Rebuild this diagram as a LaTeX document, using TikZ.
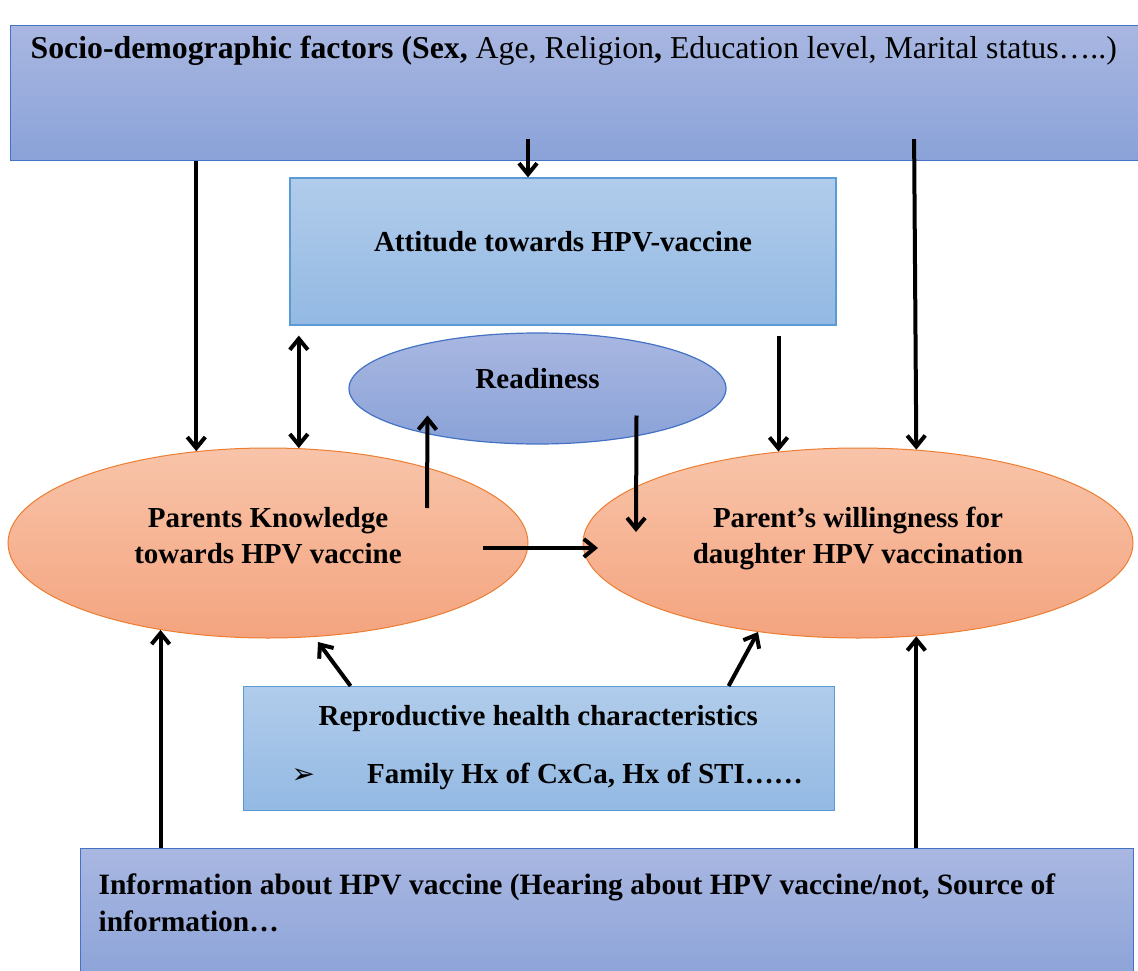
\documentclass[tikz,border=0pt]{standalone}
\usepackage{fontspec}
\setmainfont{Liberation Serif}
\newfontfamily\dejavu{DejaVu Sans}
\usetikzlibrary{shapes.geometric,arrows.meta,calc}
\definecolor{boxtop}{HTML}{A9B7E1}
\definecolor{boxbot}{HTML}{8AA2D8}
\definecolor{boxline}{HTML}{4472C4}
\definecolor{lbtop}{HTML}{B1CCEB}
\definecolor{lbbot}{HTML}{93B9E3}
\definecolor{lbline}{HTML}{5B9BD5}
\definecolor{ortop}{HTML}{F8C4A9}
\definecolor{orbot}{HTML}{F4A47F}
\definecolor{orline}{HTML}{ED7D31}
\begin{document}
\begin{tikzpicture}[x=1pt, y=-1pt,
    >={Straight Barb[length=11pt,width=18pt]},
    bluebox/.style={rectangle, top color=boxtop, bottom color=boxbot, draw=boxline, line width=1.2pt, inner sep=0pt},
    lightbox/.style={rectangle, top color=lbtop, bottom color=lbbot, draw=lbline, line width=1.2pt, inner sep=0pt},
    orangeoval/.style={ellipse, top color=ortop, bottom color=orbot, draw=orline, line width=1pt, inner sep=0pt},
    blueoval/.style={ellipse, top color=boxtop, bottom color=boxbot, draw=boxline, line width=1.2pt, inner sep=0pt},
    arr/.style={->, line width=4pt},
    font=\fontsize{29}{36}\selectfont\bfseries]
    \useasboundingbox (0,0) rectangle (1138,971); % размер картинки
    \def\ovaltext#1{\parbox[c][72pt][t]{360pt}{\centering #1}} % текст в овале чуть выше центра

    % блоки
    \node [bluebox, anchor=north west, font=\fontsize{31.8}{36}\selectfont] (socio) at (10,25)
        {\parbox[c][135pt][t]{1135pt}{\vspace*{11pt}\hspace*{20pt}\textbf{Socio-demographic factors (Sex,} Age, Religion\textbf{,} Education level, Marital status…..)}};
    \node [lightbox, minimum width=546pt, minimum height=147pt, text height=20pt, text depth=21pt] (att) at (563,251.5) {Attitude towards HPV-vaccine};
    \node [blueoval, minimum width=377pt, minimum height=111pt, text height=20pt, text depth=21pt] (ready) at (537.5,388.5) {Readiness};
    \node [orangeoval, minimum width=520pt, minimum height=190pt] (know) at (268,543) {\ovaltext{Parents Knowledge\\towards HPV vaccine}};
    \node [orangeoval, minimum width=550pt, minimum height=190pt] (will) at (858,543) {\ovaltext{Parent’s willingness for\\daughter HPV vaccination}};
    \node [lightbox, anchor=north west, font=\fontsize{29}{58}\selectfont\bfseries] (rep) at (243,686)
        {\parbox[c][124pt][t]{591pt}{\vspace*{19pt}\hspace*{75pt}Reproductive health characteristics\par
        \hspace*{48pt}{\dejavu\bfseries\fontsize{28}{28}\selectfont ➢}\hspace*{52pt}Family Hx of CxCa, Hx of STI……}};
    \node [bluebox, anchor=north west, font=\fontsize{29.5}{37}\selectfont\bfseries] (info) at (80,848)
        {\parbox[c][140pt][t]{1053pt}{\vspace*{25pt}\hspace*{18pt}Information about HPV vaccine (Hearing about HPV vaccine/not, Source of\\
        \hspace*{18pt}information…}};

    % стрелки сверху
    \draw [arr] (socio.south -| know.128.7) -- (know.128.7);
    \draw [arr] ($(socio.south -| att.north)+(-35,-22)$) -- ($(att.north)+(-35,0)$);
    \draw [arr] ($(socio.south)+(336,-22)$) -- (will.58.5);
    \draw [<->, line width=4pt] ($(att.south -| know.72.9)+(0,10)$) -- (know.72.9);
    \draw [arr] ($(att.south -| will.131)+(0,10)$) -- (will.131);
    % стрелки в середине
    \draw [arr] ($(know.center)+(159,-35)$) -- ($(ready.center)+(-110,27)$);
    \draw [arr] ($(ready.center)+(99,27)$) -- ($(will.center)+(-222,-11)$);
    \draw [arr] ($(know.center)+(215,5)$) -- ($(will.center)+(-260,5)$);
    % стрелки снизу
    \draw [arr] ($(rep.north)+(-188.5,0)$) -- ($(know.center)+(50,99)$);
    \draw [arr] ($(rep.north)+(189.5,0)$) -- ($(will.center)+(-100,89)$);
    \foreach \t in {know.219.6, will.302} % от информации к овалам
        \draw [arr] (info.north -| \t) -- (\t);
\end{tikzpicture}
\end{document}
